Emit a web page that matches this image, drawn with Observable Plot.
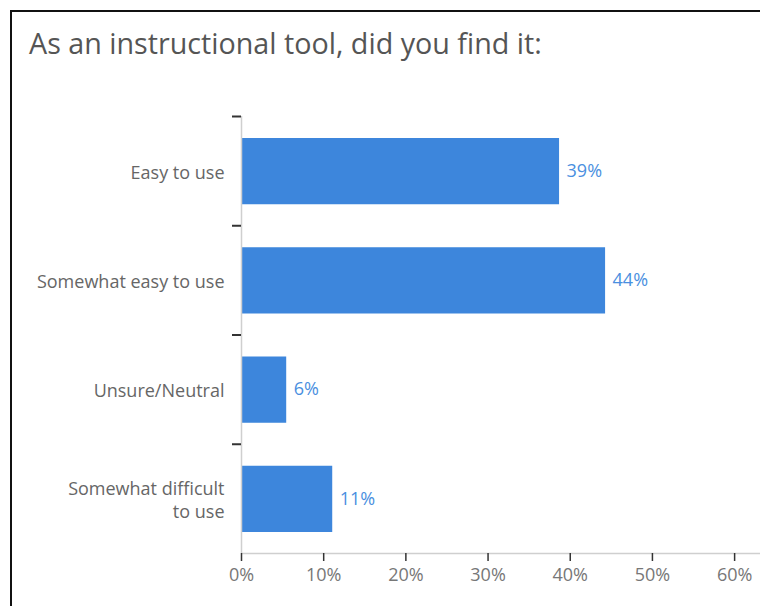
<!DOCTYPE html>
<html>
<head>
<meta charset="utf-8">
<script src="https://cdn.jsdelivr.net/npm/d3@7"></script>
<script src="https://cdn.jsdelivr.net/npm/@observablehq/plot@0.6"></script>
<style>
  html, body { margin: 0; padding: 0; background: #fff; }
  body { width: 760px; height: 606px; position: relative; overflow: hidden; font-family: "Open Sans", sans-serif; }
  #frame { position: absolute; left: 10px; top: 10px; right: -5px; bottom: -5px; border-left: 2px solid #111; border-top: 2px solid #111; }
  #title { position: absolute; left: 29px; top: 23px; font-size: 28.7px; line-height: normal; color: #555; font-family: "Open Sans", sans-serif; white-space: nowrap; }
  #chart { position: absolute; left: 0; top: 0; }
</style>
</head>
<body>
<div id="frame"></div>
<div id="title">As an instructional tool, did you find it:</div>
<div id="chart"></div>
<script>
const categories = ["Easy to use", "Somewhat easy to use", "Unsure/Neutral", "Somewhat difficult\nto use"];
const values = [38.7, 44.3, 5.5, 11.1];
const valueLabels = ["39%", "44%", "6%", "11%"];
const xTicks = [0, 10, 20, 30, 40, 50, 60];

const data = categories.map((c, i) => ({cat: c, i, v: values[i], label: valueLabels[i]}));

const plot = Plot.plot({
  width: 760,
  height: 606,
  marginLeft: 241,
  marginRight: 0,
  marginTop: 116,
  marginBottom: 53,
  style: {fontFamily: "Open Sans, sans-serif", fontSize: "18px", color: "#666", background: "transparent"},
  x: {domain: [0, 63.15]},
  y: {domain: [0, 4], reverse: true},
  marks: [
    Plot.rectX(data, {x1: 0, x2: "v", y1: "i", y2: d => d.i + 1, fill: "#3d86dc", insetTop: 22, insetBottom: 21}),
    Plot.ruleX([0], {stroke: "#cfcfcf", strokeWidth: 1.5}),
    Plot.ruleY([4], {stroke: "#cfcfcf", strokeWidth: 1.5}),
    Plot.axisY({ticks: [0, 1, 2, 3], tickSize: 9, tickFormat: () => "", stroke: "#333", strokeWidth: 2, label: null}),
    Plot.axisX({ticks: xTicks, tickSize: 8, tickPadding: 7, tickFormat: d => d + "%", stroke: "#333", strokeWidth: 1.5, fill: "#777", label: null, fontSize: 18}),
    Plot.text(data, {x: 0, y: d => d.i + 0.5, text: "cat", textAnchor: "end", dx: -17, fill: "#666", fontSize: 18, lineHeight: 1.3}),
    Plot.text(data, {x: "v", y: d => d.i + 0.5, text: "label", textAnchor: "start", dx: 7, fill: "#4a8fe0", fontSize: 18})
  ]
});
document.getElementById("chart").appendChild(plot);
</script>
</body>
</html>
